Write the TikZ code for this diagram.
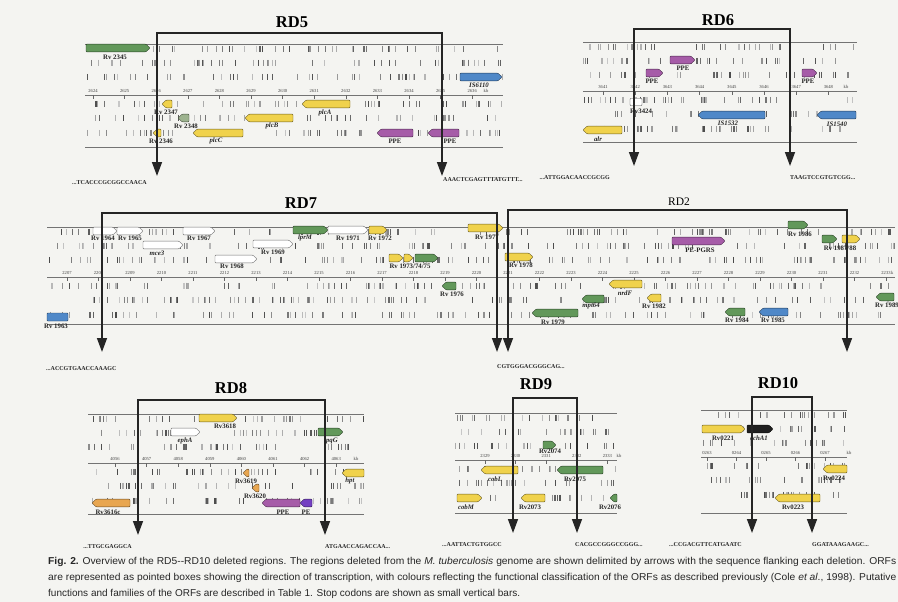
\documentclass[tikz,border=0pt]{standalone}
\usepackage{fontspec}
\setmainfont{Liberation Serif}
\newfontfamily\capfont{Liberation Sans}
\usetikzlibrary{arrows.meta}
\definecolor{bgc}{HTML}{F4F4F1}
\definecolor{orfgreen}{HTML}{62985A}
\definecolor{orfyellow}{HTML}{F0D24C}
\definecolor{orfpurple}{HTML}{A65CA8}
\definecolor{orfblue}{HTML}{4F88C8}
\definecolor{orforange}{HTML}{E8A650}
\definecolor{orfgray}{HTML}{9DB38F}
\definecolor{orfdark}{HTML}{202020}
\definecolor{linec}{HTML}{252525}
\tikzset{
 lab/.style={font=\fontsize{6.8}{6.8}\selectfont\bfseries, inner sep=0pt, text=black!85},
 ilab/.style={font=\fontsize{6.8}{6.8}\selectfont\bfseries\itshape, inner sep=0pt, text=black!85},
 scl/.style={font=\fontsize{4.6}{4.6}\selectfont, inner sep=0pt, text=black!75},
 seq/.style={font=\fontsize{6}{6}\selectfont\bfseries, inner sep=0pt, text=black!85},
 rdtitle/.style={font=\fontsize{16.5}{16.5}\selectfont\bfseries, inner sep=0pt},
 rdplain/.style={font=\fontsize{11.5}{11.5}\selectfont, inner sep=0pt},
 bracket/.style={draw=linec, line width=1.5pt, {Triangle[width=10pt,length=14pt]}-{Triangle[width=10pt,length=14pt]}},
 pline/.style={draw=black!55, line width=0.6pt},
 orf/.style={line width=0.45pt, rounded corners=0.8pt},
 captext/.style={font=\capfont\fontsize{10}{10}\selectfont, inner sep=0pt, anchor=west, text=black!85},
}
\newcommand{\stoprow}[4]{%
  \foreach \k in {1,...,#4}{%
    \pgfmathsetmacro{\bx}{#1+rnd*(#2-#1)}%
    \pgfmathsetmacro{\bw}{0.4+rnd*1.1}%
    \pgfmathtruncatemacro{\bg}{22+rnd*50}%
    \draw[line width=\bw pt, black!\bg] (\bx,#3-3.2) -- (\bx,#3+3.2);
  }}
\newcommand{\panel}[6]{%
  \stoprow{#1}{#2}{#3+5}{#6}
  \stoprow{#1}{#2}{#3+19}{#6}
  \stoprow{#1}{#2}{#3+33}{#6}
  \stoprow{#1}{#2}{#4+9}{#6}
  \stoprow{#1}{#2}{#4+23}{#6}
  \stoprow{#1}{#2}{#4+38}{#6}
  \draw[pline] (#1,#3) -- (#2,#3);
  \draw[pline] (#1,#4) -- (#2,#4);
  \draw[pline] (#1,#5) -- (#2,#5);
}
% prefix, start, x0, dx, count, S
\newcommand{\scalemarks}[6]{%
  \foreach \i in {0,...,#5}{%
    \pgfmathtruncatemacro{\val}{#2+\i}%
    \pgfmathsetmacro{\sx}{#3+\i*#4}%
    \node[scl] at (\sx,#6-4.5) {#1\val};
    \draw[black!60, line width=0.5pt] (\sx,#6) -- (\sx,#6+4);
  }}
\newcommand{\orfR}[4]{\filldraw[orf, fill=#4, draw=#4!45!black] (#1,#3-3.8) -- (#2-4,#3-3.8) -- (#2,#3) -- (#2-4,#3+3.8) -- (#1,#3+3.8) -- cycle;}
\newcommand{\orfL}[4]{\filldraw[orf, fill=#4, draw=#4!45!black] (#2,#3-3.8) -- (#1+4,#3-3.8) -- (#1,#3) -- (#1+4,#3+3.8) -- (#2,#3+3.8) -- cycle;}
\begin{document}
\begin{tikzpicture}[x=1pt,y=-1pt]
\pgfmathsetseed{4242}
\fill[bgc] (0,0) rectangle (898,602);
\useasboundingbox (0,0) rectangle (898,602);

% ================= RD5 =================
\panel{85}{503}{44}{95}{147}{50}
\scalemarks{}{2624}{93}{31.6}{12}{95}
\node[scl] at (486,90.5) {kb};
\orfR{86}{150}{48}{orfgreen}
\node[lab] at (115,57) {Rv 2345};
\orfL{162}{172}{104}{orfyellow}
\node[lab] at (166,112) {Rv 2347};
\orfL{178}{189}{118}{orfgray}
\node[lab] at (186,126) {Rv 2348};
\orfL{153}{161}{133}{orfyellow}
\node[lab] at (161,141) {Rv 2346};
\orfL{193}{243}{133}{orfyellow}
\node[ilab] at (216,141) {plcC};
\orfL{245}{293}{118}{orfyellow}
\node[ilab] at (272,126) {plcB};
\orfL{302}{350}{104}{orfyellow}
\node[ilab] at (325,113) {plcA};
\orfL{377}{413}{133}{orfpurple}
\node[lab] at (395,141) {PPE};
\orfL{428}{459}{133}{orfpurple}
\node[lab] at (450,141) {PPE};
\orfR{460}{502}{77}{orfblue}
\node[ilab] at (479,85) {IS\itshape 6110};
\node[rdtitle] (t5) at (292,22) {RD5};
\coordinate (rd5l) at (157,176);
\coordinate (rd5t) at (300,33);
\coordinate (rd5r) at (442,176);
\draw[bracket] (rd5l) |- (rd5t) -| (rd5r);
\node[seq, anchor=west] (s5l) at (72,183) {...TCACCCGCGGCCAACA};
\node[seq, anchor=west] (s5r) at (443,180) {AAACTCGAGTTTATGTTT...};

% ================= RD6 =================
\panel{583}{857}{42}{91}{142}{34}
\scalemarks{}{3641}{603}{32.2}{7}{91}
\node[scl] at (846,86.5) {kb};
\orfR{670}{695}{60}{orfpurple}
\node[lab] at (683,68) {PPE};
\orfR{646}{663}{73}{orfpurple}
\node[lab] at (652,81) {PPE};
\orfR{802}{817}{73}{orfpurple}
\node[lab] at (808,81) {PPE};
\filldraw[orf, fill=white, draw=black!70] (630,98.5) rectangle (642,105.5);
\node[lab] at (641,111) {Rv3424};
\orfL{698}{765}{115}{orfblue}
\node[ilab] at (728,123) {IS\itshape 1532};
\orfL{817}{856}{115}{orfblue}
\node[ilab] at (837,124) {IS\itshape 1540};
\orfL{583}{622}{130}{orfyellow}
\node[ilab] at (598,139) {alr};
\node[rdtitle] (t6) at (718,20) {RD6};
\coordinate (rd6l) at (634,166);
\coordinate (rd6t) at (700,29);
\coordinate (rd6r) at (790,166);
\draw[bracket] (rd6l) |- (rd6t) -| (rd6r);
\node[seq, anchor=east] (s6l) at (610,178) {...ATTGGACAACCGCGG};
\node[seq, anchor=west] (s6r) at (790,178) {TAAGTCCGTGTCGG...};

% ================= RD7 / RD2 =================
\panel{47}{895}{227}{277}{324}{104}
\scalemarks{}{2207}{67}{31.5}{26}{277}
\node[scl, anchor=west] at (891,272.5) {k};
\orfR{93}{117}{231}{white}
\orfR{117}{143}{231}{white}
\node[lab] at (103,238) {Rv 1964};
\node[lab] at (130,238) {Rv 1965};
\orfR{143}{183}{245}{white}
\node[ilab] at (157,253) {mce3};
\orfR{183}{215}{231}{white}
\node[lab] at (199,238) {Rv 1967};
\orfR{215}{257}{259}{white}
\node[lab] at (232,266) {Rv 1968};
\orfR{253}{293}{244}{white}
\node[lab] at (273,252) {Rv 1969};
\orfR{293}{328}{230}{orfgreen}
\node[ilab] at (305,238) {lprM};
\orfR{328}{368}{230}{white}
\node[lab] at (348,238) {Rv 1971};
\orfR{369}{387}{230}{orfyellow}
\node[lab] at (380,238) {Rv 1972};
\orfR{389}{403}{258}{orfyellow}
\orfR{404}{413}{258}{orfyellow}
\orfR{415}{438}{258}{orfgreen}
\node[lab] at (410,266) {Rv 1973/74/75};
\orfL{442}{456}{286}{orfgreen}
\node[lab] at (452,294) {Rv 1976};
\filldraw[orf, fill=orfblue, draw=orfblue!45!black] (47,313) rectangle (68,321);
\node[lab] at (56,326) {Rv 1963};
\orfR{468}{503}{228}{orfyellow}
\node[lab] at (487,237) {Rv 1977};
\orfR{505}{533}{257}{orfyellow}
\node[lab] at (521,265) {Rv 1978};
\orfR{672}{725}{241}{orfpurple}
\node[lab] at (700,250) {PE-PGRS};
\orfR{788}{808}{225}{orfgreen}
\node[lab] at (800,234) {Rv 1986};
\orfR{822}{837}{239}{orfgreen}
\orfR{842}{860}{239}{orfyellow}
\node[lab] at (840,248) {Rv 1987/88};
\orfL{876}{894}{297}{orfgreen}
\node[lab] at (887,305) {Rv 1989};
\orfL{532}{578}{313}{orfgreen}
\node[lab] at (553,322) {Rv 1979};
\orfL{582}{604}{299}{orfgreen}
\node[ilab] at (591,306) {mpt64};
\orfL{609}{642}{284}{orfyellow}
\node[ilab] at (625,293) {nrdF};
\orfL{647}{661}{298}{orfyellow}
\node[lab] at (654,306) {Rv 1982};
\orfL{725}{745}{312}{orfgreen}
\node[lab] at (737,320) {Rv 1984};
\orfL{759}{788}{312}{orfblue}
\node[lab] at (773,320) {Rv 1985};
\node[rdtitle] (t7) at (301,203) {RD7};
\node[rdplain] (t2) at (679,202) {RD2};
\coordinate (rd7l) at (102,352);
\coordinate (rd7t) at (300,213);
\coordinate (rd7r) at (497,352);
\draw[bracket] (rd7l) |- (rd7t) -| (rd7r);
\coordinate (rd2l) at (508,352);
\coordinate (rd2t) at (680,210);
\coordinate (rd2r) at (847,352);
\draw[bracket] (rd2l) |- (rd2t) -| (rd2r);
\node[seq, anchor=west] (s7l) at (46,369) {...ACCGTGAACCAAAGC};
\node[seq, anchor=west] (s2l) at (497,367) {CGTGGGACGGGCAG...};

% ================= RD8 =================
\panel{88}{364}{414}{463}{514}{34}
\scalemarks{}{4056}{115}{31.6}{7}{463}
\node[scl] at (356,458.5) {kb};
\orfR{199}{237}{418}{orfyellow}
\node[lab] at (225,426) {Rv3618};
\orfR{171}{200}{432}{white}
\node[ilab] at (185,441) {ephA};
\orfR{318}{343}{432}{orfgreen}
\node[ilab] at (331,441) {lpqG};
\orfL{243}{249}{473}{orforange}
\node[lab] at (246,481) {Rv3619};
\orfL{342}{364}{473}{orfyellow}
\node[ilab] at (350,481) {hpt};
\orfL{252}{259}{488}{orforange}
\node[lab] at (255,496) {Rv3620};
\orfL{262}{300}{503}{orfpurple}
\node[lab] at (283,512) {PPE};
\orfL{300}{312}{503}{orfpurple!70!blue}
\node[lab] at (306,512) {PE};
\orfL{92}{130}{503}{orforange}
\node[lab] at (108,512) {Rv3616c};
\node[rdtitle] (t8) at (231,388) {RD8};
\coordinate (rd8l) at (138,535);
\coordinate (rd8t) at (230,400);
\coordinate (rd8r) at (325,535);
\draw[bracket] (rd8l) |- (rd8t) -| (rd8r);
\node[seq, anchor=east] (s8l) at (132,547) {...TTGCGAGGCA};
\node[seq, anchor=west] (s8r) at (325,547) {ATGAACCAGACCAA...};

% ================= RD9 =================
\panel{455}{617}{413}{460}{513}{21}
\scalemarks{}{2329}{485}{30.6}{4}{460}
\node[scl] at (619,455.5) {kb};
\orfR{543}{556}{445}{orfgreen}
\node[lab] at (550,451) {Rv2074};
\orfL{481}{518}{470}{orfyellow}
\node[ilab] at (495,479) {cobL};
\orfL{557}{603}{470}{orfgreen}
\node[lab] at (575,479) {Rv2075};
\orfR{457}{482}{498}{orfyellow}
\node[ilab] at (466,507) {cobM};
\orfL{521}{545}{498}{orfyellow}
\node[lab] at (530,507) {Rv2073};
\orfL{610}{617}{498}{orfgreen}
\node[lab] at (610,507) {Rv2076};
\node[rdtitle] (t9) at (536,384) {RD9};
\coordinate (rd9l) at (513,533);
\coordinate (rd9t) at (545,398);
\coordinate (rd9r) at (577,533);
\draw[bracket] (rd9l) |- (rd9t) -| (rd9r);
\node[seq, anchor=east] (s9l) at (502,545) {...AATTACTGTGGCC};
\node[seq, anchor=west] (s9r) at (575,545) {CACGCCGGGCCGGG...};

% ================= RD10 =================
\panel{701}{847}{410}{457}{513}{19}
\scalemarks{0}{263}{707}{29.5}{4}{457}
\node[scl] at (849,452.5) {kb};
\orfR{702}{745}{429}{orfyellow}
\node[lab] at (723,438) {Rv0221};
\orfR{747}{773}{429}{orfdark}
\node[ilab] at (759,438) {echA1};
\orfL{823}{847}{469}{orfyellow}
\node[lab] at (834,478) {Rv0224};
\orfL{775}{820}{498}{orfyellow}
\node[lab] at (793,507) {Rv0223};
\node[rdtitle] (t10) at (778,383) {RD10};
\coordinate (rd10l) at (752,533);
\coordinate (rd10t) at (780,397);
\coordinate (rd10r) at (812,533);
\draw[bracket] (rd10l) |- (rd10t) -| (rd10r);
\node[seq, anchor=east] (s10l) at (742,545) {...CCGACGTTCATGAATC};
\node[seq, anchor=west] (s10r) at (812,545) {GGATAAAGAAGC...};

% ================= caption =================
\node[captext] (cap1) at (48,562) {\resizebox{848pt}{\height}{\textbf{Fig. 2.} Overview of the RD5--RD10 deleted regions. The regions deleted from the \textit{M. tuberculosis} genome are shown delimited by arrows with the sequence flanking each deletion. ORFs}};
\node[captext] (cap2) at (48,578) {\resizebox{848pt}{\height}{are represented as pointed boxes showing the direction of transcription, with colours reflecting the functional classification of the ORFs as described previously (Cole \textit{et al}., 1998). Putative}};
\node[captext] (cap3) at (48,594) {\resizebox{472pt}{\height}{functions and families of the ORFs are described in Table 1. Stop codons are shown as small vertical bars.}};
\end{tikzpicture}
\end{document}
